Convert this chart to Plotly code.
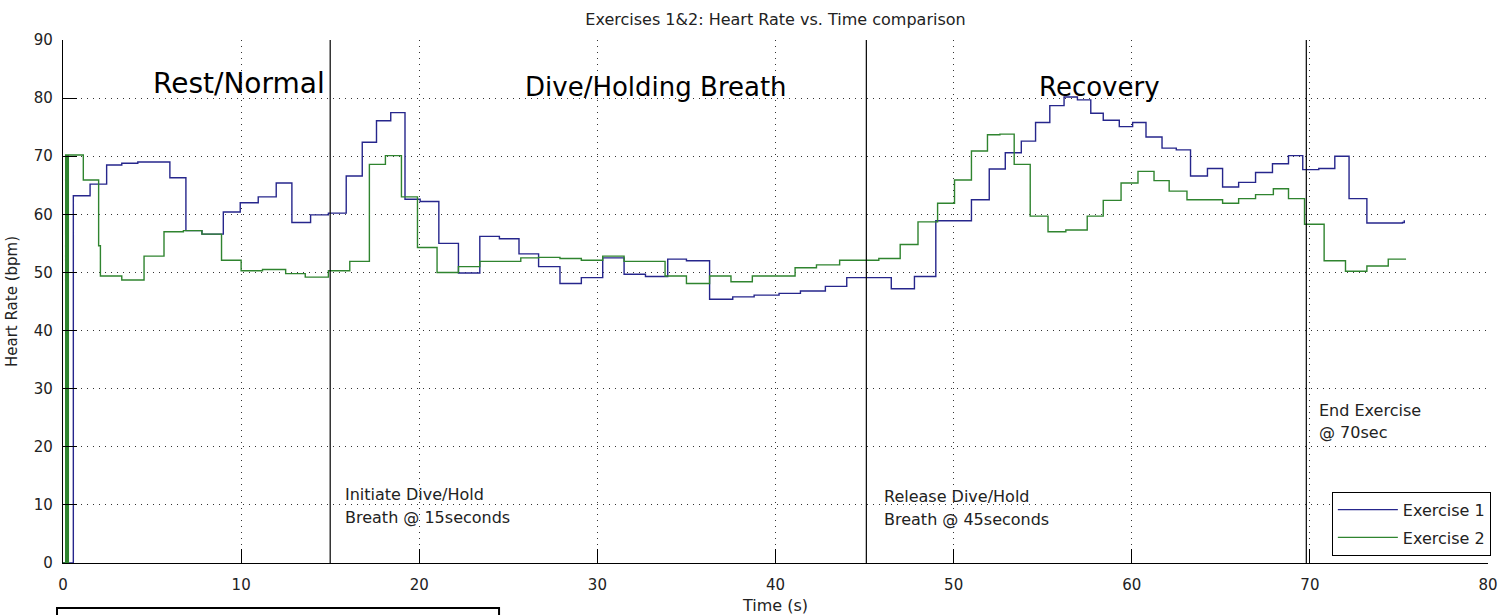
import plotly.graph_objects as go

# ---- data (step series: time at which each level starts, level in bpm) ----
ex1_time = [0, 0.58, 1.52, 2.45, 3.3, 4.2, 6.0, 6.9, 7.8, 9.0, 9.95, 10.96, 11.97, 12.85, 13.9, 14.9,
            15.9, 16.8, 17.6, 18.4, 19.2, 20.05, 21.1, 22.2, 23.4, 24.5, 25.6, 26.7, 27.9, 29.1,
            30.3, 31.5, 32.7, 33.95, 35.0, 36.3, 37.6, 38.8, 40.2, 41.4, 42.8, 44.0, 46.5, 47.8,
            49.0, 51.0, 52.0, 52.9, 53.8, 54.6, 55.4, 56.2, 56.95, 57.7, 58.4, 59.3, 60.05, 60.8,
            61.7, 62.5, 63.3, 64.25, 65.1, 66.0, 66.95, 67.9, 68.8, 69.6, 70.5, 71.4, 72.2, 73.2,
            75.2, 75.3]
ex1_hr = [0, 63.2, 65.2, 68.5, 68.8, 69.0, 66.3, 57.2, 56.6, 60.4, 62.0, 63.0, 65.4, 58.6, 59.9, 60.2,
          66.6, 72.4, 76.1, 77.5, 62.6, 62.2, 55.0, 49.9, 56.2, 55.8, 53.2, 51.0, 48.1, 49.1,
          52.5, 49.7, 49.3, 52.3, 52.0, 45.4, 45.8, 46.1, 46.4, 46.8, 47.6, 49.1, 47.2, 49.3,
          58.9, 62.5, 67.8, 70.6, 72.6, 75.8, 78.7, 80.2, 79.7, 77.4, 76.2, 75.1, 75.8, 73.3,
          71.4, 71.1, 66.6, 67.9, 64.7, 65.5, 67.2, 68.7, 70.1, 67.7, 67.9, 70.0, 62.7, 58.5,
          58.6, 59.0]

ex2_time = [0, 0.15, 0.22, 0.3, 1.14, 2.0, 2.1, 3.3, 4.55, 5.67, 6.76, 7.8, 8.9, 10.0, 11.2, 12.5,
            13.6, 14.9, 16.1, 17.2, 18.1, 19.0, 19.9, 21.0, 22.2, 23.4, 25.7, 26.7, 27.9, 29.1,
            30.3, 31.5, 33.8, 35.0, 36.3, 37.5, 38.7, 41.1, 42.3, 43.6, 45.8, 47.0, 48.0, 49.1,
            50.05, 51.0, 51.9, 52.6, 53.4, 54.3, 55.3, 56.3, 57.5, 58.4, 59.4, 60.35, 61.25, 62.1,
            63.1, 65.1, 66.0, 66.95, 67.95, 68.8, 69.7, 70.8, 72.0, 73.2, 74.4, 75.4]
ex2_hr = [0, 70.2, 0, 70.2, 65.9, 54.6, 49.4, 48.7, 52.8, 57.0, 57.2, 56.6, 52.1, 50.3, 50.5, 49.8,
          49.2, 50.3, 51.9, 68.6, 70.1, 63.0, 54.3, 50.0, 51.0, 51.9, 52.5, 52.6, 52.4, 52.1,
          52.8, 51.9, 49.4, 48.1, 49.4, 48.4, 49.4, 50.8, 51.3, 52.1, 52.4, 54.8, 58.7, 61.9,
          65.9, 70.9, 73.7, 73.8, 68.6, 59.7, 57.0, 57.3, 59.7, 62.4, 65.4, 67.4, 65.8, 64.0,
          62.5, 61.9, 62.7, 63.4, 64.4, 62.7, 58.3, 52.0, 50.2, 51.1, 52.3, 52.3]

event_times = [15.0, 45.1, 69.8]

phase_labels = ["Rest/Normal", "Dive/Holding Breath", "Recovery"]
phase_x = [9.88, 33.3, 58.17]
phase_y = [82.6, 81.9, 81.9]
phase_size = [28, 26, 26]

note_lines = ["Initiate Dive/Hold", "Breath @ 15seconds",
              "Release Dive/Hold", "Breath @ 45seconds",
              "End Exercise", "@ 70sec"]
note_x = [15.7, 15.7, 46.0, 46.0, 70.4, 70.4]
note_y = [11.8, 7.8, 11.5, 7.5, 26.2, 22.4]

x_ticks = list(range(0, 81, 10))
y_ticks = list(range(0, 91, 10))

FONT = "DejaVu Sans"
BLUE = "#26268c"
GREEN = "#2f842f"

fig = go.Figure()
fig.add_trace(go.Scatter(x=ex1_time, y=ex1_hr, mode="lines", line_shape="hv",
                         line=dict(color=BLUE, width=1.4), name="Exercise 1",
                         legendgroup="g1"))
fig.add_trace(go.Scatter(x=ex2_time, y=ex2_hr, mode="lines", line_shape="hv",
                         line=dict(color=GREEN, width=1.4), name="Exercise 2",
                         legendgroup="g2"))

shapes = []
for t in event_times:
    shapes.append(dict(type="line", xref="x", yref="y", x0=t, x1=t, y0=0, y1=90,
                       line=dict(color="black", width=1.2)))
# empty box below the axes (bottom-left)
shapes.append(dict(type="rect", xref="paper", yref="paper", x0=-0.0042, x1=0.306,
                   y0=-0.35, y1=-0.086, line=dict(color="black", width=2),
                   fillcolor="rgba(0,0,0,0)"))

annotations = []
for txt, x, y, s in zip(phase_labels, phase_x, phase_y, phase_size):
    annotations.append(dict(text=txt, x=x, y=y, xref="x", yref="y", showarrow=False,
                            xanchor="center", yanchor="middle",
                            font=dict(family=FONT, size=s, color="black")))
for txt, x, y in zip(note_lines, note_x, note_y):
    annotations.append(dict(text=txt, x=x, y=y, xref="x", yref="y", showarrow=False,
                            xanchor="left", yanchor="middle",
                            font=dict(family=FONT, size=16, color="#222222")))

fig.update_layout(
    width=1510, height=615,
    margin=dict(l=63, r=22, t=40, b=52),
    paper_bgcolor="white", plot_bgcolor="white",
    font=dict(family=FONT, size=15, color="#222222"),
    title=dict(text="Exercises 1&2: Heart Rate vs. Time comparison",
               x=0.5, xref="paper", xanchor="center",
               y=1 - 19.5 / 615, yref="container", yanchor="middle",
               font=dict(family=FONT, size=16, color="#222222")),
    shapes=shapes,
    annotations=annotations,
    showlegend=True,
    legend=dict(x=1.002, y=0.014, xanchor="right", yanchor="bottom",
                bgcolor="white", bordercolor="black", borderwidth=1,
                font=dict(family=FONT, size=16, color="#222222"),
                itemwidth=60, tracegroupgap=4),
)
fig.update_xaxes(range=[0, 80], tickvals=x_ticks, ticks="inside", ticklen=14,
                 tickcolor="black", showline=True, linecolor="black", linewidth=1.2,
                 showgrid=True, gridcolor="#333333", gridwidth=1, griddash="1px,5px",
                 zeroline=False, mirror=False, automargin=False, ticklabelstandoff=8,
                 title=dict(text="Time (s)", standoff=10,
                            font=dict(family=FONT, size=16, color="#222222")))
fig.update_yaxes(range=[0, 90], tickvals=y_ticks, ticks="inside", ticklen=14,
                 tickcolor="black", showline=True, linecolor="black", linewidth=1.2,
                 showgrid=True, gridcolor="#333333", gridwidth=1, griddash="1px,5px",
                 zeroline=False, mirror=False, automargin=False, ticklabelstandoff=6,
                 title=dict(text="Heart Rate (bpm)", standoff=12,
                            font=dict(family=FONT, size=15, color="#222222")))

fig.write_html("out.html")
